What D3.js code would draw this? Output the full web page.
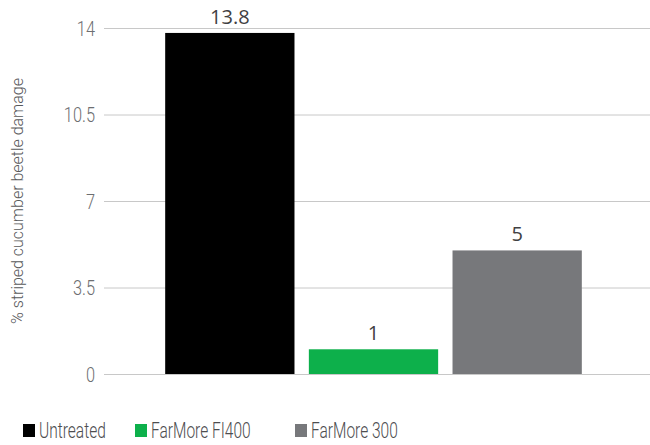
<!DOCTYPE html>
<html>
<head>
<meta charset="utf-8">
<script src="https://cdn.jsdelivr.net/npm/d3@7"></script>
<style>
  body { margin: 0; background: #fff; }
  .cond { font-family: Roboto, "Liberation Sans", sans-serif; font-weight: 300; }
</style>
</head>
<body>
<div id="chart"></div>
<script>
const categories = ["Untreated", "FarMore FI400", "FarMore 300"];
const damage = [13.8, 1, 5];
const colors = ["#000000", "#0db04b", "#77787b"];
const yTicks = [0, 3.5, 7, 10.5, 14];

const width = 650, height = 445;
const svg = d3.select("#chart").append("svg")
    .attr("width", width)
    .attr("height", height);

const x = d3.scaleBand().domain(categories).range([158, 589]).paddingInner(0.1).paddingOuter(0.05);
const y = d3.scaleLinear().domain([0, 14]).range([374, 28]);

// gridlines
svg.append("g").selectAll("line")
    .data(yTicks)
    .enter().append("line")
    .attr("x1", 104).attr("x2", 650)
    .attr("y1", d => y(d) + 0.5).attr("y2", d => y(d) + 0.5)
    .attr("stroke", "#c8c8c8").attr("stroke-width", 1);

// tick labels (condensed look via horizontal scale)
svg.append("g").selectAll("text")
    .data(yTicks)
    .enter().append("text")
    .attr("class", "cond")
    .attr("transform", d => "translate(95," + y(d) + ") scale(0.78,1)")
    .attr("dy", "0.36em")
    .attr("text-anchor", "end")
    .attr("font-size", 21)
    .attr("fill", "#6d6e71")
    .text(d => d);

// axis title
svg.append("text")
    .attr("class", "cond")
    .attr("transform", "translate(23,201) rotate(-90) scale(0.94,1)")
    .attr("text-anchor", "middle")
    .attr("font-size", 17)
    .attr("fill", "#58595b")
    .text("% striped cucumber beetle damage");

const data = categories.map((c, i) => ({ name: c, value: damage[i], color: colors[i] }));

svg.selectAll(".bar")
    .data(data)
    .enter().append("rect")
    .attr("class", "bar")
    .attr("x", d => x(d.name))
    .attr("y", d => y(d.value))
    .attr("width", x.bandwidth())
    .attr("height", d => y(0) - y(d.value))
    .attr("fill", d => d.color);

svg.selectAll(".val")
    .data(data)
    .enter().append("text")
    .attr("class", "val")
    .attr("x", d => x(d.name) + x.bandwidth() / 2)
    .attr("y", d => y(d.value) - 9)
    .attr("text-anchor", "middle")
    .attr("font-family", "'Open Sans', sans-serif")
    .attr("font-size", 20)
    .attr("fill", "#414042")
    .text(d => d.value);

// legend
const legendX = [23, 135, 295];
const lg = svg.append("g").selectAll("g")
    .data(data)
    .enter().append("g")
    .attr("transform", (d, i) => "translate(" + legendX[i] + ",424)");
lg.append("rect")
    .attr("width", 12).attr("height", 13)
    .attr("fill", d => d.color);
lg.append("text")
    .attr("class", "cond")
    .attr("transform", "translate(16,13.5) scale(0.69,1)")
    .attr("font-size", 22.5)
    .attr("fill", "#4d4d4f")
    .text(d => d.name);
</script>
</body>
</html>
